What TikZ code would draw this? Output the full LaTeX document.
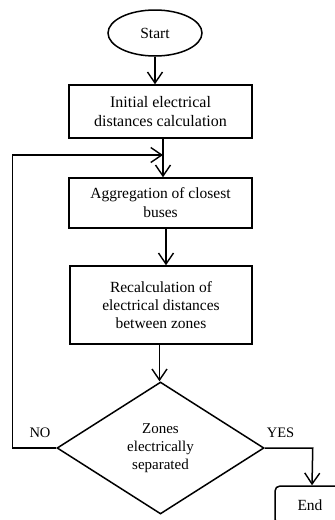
\documentclass[tikz,border=0pt]{standalone}
\usepackage{fontspec}
\setmainfont{Liberation Serif}
\usetikzlibrary{shapes.geometric,arrows.meta,calc}
\begin{document}
\begin{tikzpicture}[x=1pt,y=-1pt,
  txt/.style={font=\fontsize{15.5}{19}\selectfont},
  box/.style={draw,line width=1.5pt,minimum width=183pt,align=center,inner sep=0pt,txt},
  arr/.style={line width=1.5pt,-{Straight Barb[length=11pt,width=15pt,line width=1.4pt]}},
  ln/.style={line width=1.5pt}]
\useasboundingbox (0,0) rectangle (335,520);
\clip (0,0) rectangle (335,520);
\node[draw,line width=1.5pt,ellipse,minimum width=94pt,minimum height=46pt,inner sep=0pt,txt] (start) at (155,33) {Start};
\node[box,minimum height=53pt,font=\fontsize{16}{19}\selectfont] (b1) at (160.5,111.5) {Initial electrical\\distances calculation};
\node[box,minimum height=50pt] (b2) at (160.5,203) {Aggregation of closest\\buses};
\node[box,minimum height=78pt,minimum width=182pt,font=\fontsize{15.5}{18}\selectfont] (b3) at (161,305) {Recalculation of\\electrical distances\\between zones};
\node[draw,line width=1.5pt,diamond,minimum width=207pt,minimum height=132pt,aspect=1.57,inner sep=0pt,align=center,font=\fontsize{15}{18}\selectfont] (d) at (160.5,448) {Zones\\electrically\\separated};
\node[draw,line width=1.5pt,rounded corners=5pt,minimum width=70pt,minimum height=38pt,inner sep=0pt,txt] (endn) at (310,505) {End};
\node[font=\fontsize{14.5}{17}\selectfont] (no) at (40,433) {NO};
\node[font=\fontsize{14.5}{17}\selectfont] (yes) at (280.5,433) {YES};
\coordinate (j) at (163,155);
\draw[arr] (start.south) -- (start.south |- b1.north);
\draw[arr] ([xshift=2.5pt]b1.south) -- ([xshift=2.5pt]b1.south |- b2.north);
\draw[arr] ([xshift=5.5pt]b2.south) -- ([xshift=5.5pt]b2.south |- b3.north);
\draw[arr] ([xshift=-1.5pt]b3.south) -- ([xshift=-1.5pt]b3.south |- d.north);
\draw[arr] (d.west) -- ++(-44,0) |- (j);
\draw[arr] (d.east) -- ++(48,0) -- ([xshift=2pt]endn.north);
\end{tikzpicture}
\end{document}
